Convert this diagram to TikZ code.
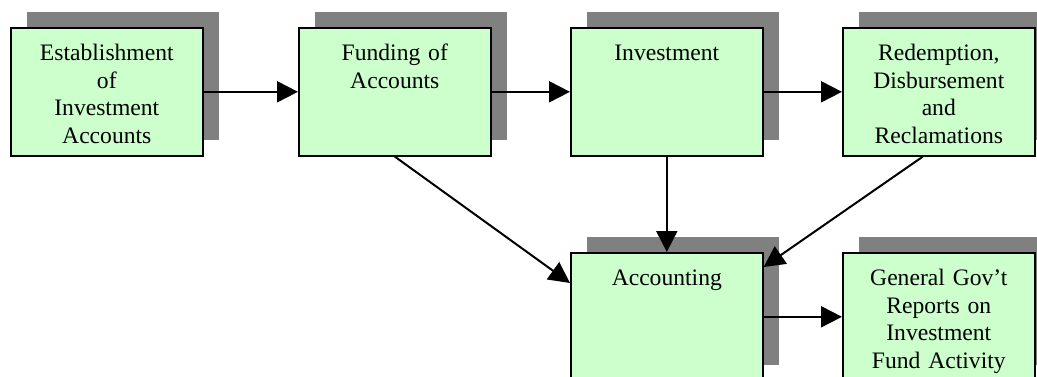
\documentclass[tikz,border=0pt]{standalone}
\usepackage{fontspec}
\setmainfont{Liberation Serif}
\usetikzlibrary{arrows.meta,shadows}
\definecolor{boxgreen}{HTML}{CCFFCC}
\definecolor{shadowgray}{HTML}{808080}
\begin{document}
\begin{tikzpicture}[
    x=1pt, y=-1pt,
    stage/.style={rectangle, draw=black, fill=boxgreen, line width=1.6pt, anchor=north west,
        text width=188pt, align=center, inner sep=2pt, text height=31pt, text depth=93pt,
        font=\fontsize{23.6}{27.4}\selectfont,
        drop shadow={shadow xshift=16pt, shadow yshift=16pt, fill=shadowgray, opacity=1}},
    edge/.style={-{Triangle[length=21pt, width=21pt]}, line width=2pt, draw=black},
]
\clip (0,0) rectangle (1037,376);
\node[stage] (est) at (10,27) {Establishment\\of\\Investment\\Accounts};
\node[stage] (fund) at (298,27) {Funding of\\Accounts};
\node[stage] (inv) at (570,27) {Investment};
\node[stage] (redm) at (842,27) {Redemption,\\Disbursement\\and\\Reclamations};
\node[stage] (acct) at (570,252) {Accounting};
\node[stage] (rep) at (842,252) {General Gov’t\\Reports on\\Investment\\Fund Activity};
\draw[edge] (est) -- (fund);
\draw[edge] (fund) -- (inv);
\draw[edge] (inv) -- (redm);
\draw[edge] (fund.south) -- ([yshift=-31pt]acct.north west);
\draw[edge] (inv.south) -- (acct.north);
\draw[edge] ([xshift=-16pt]redm.south) -- ([yshift=-15pt]acct.north east);
\draw[edge] (acct) -- (rep);
\end{tikzpicture}
\end{document}
